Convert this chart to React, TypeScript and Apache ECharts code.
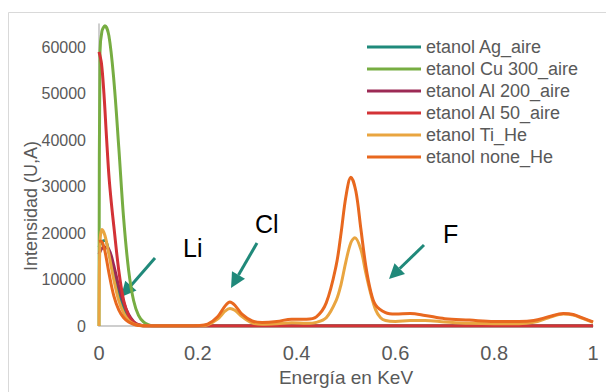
import React, { useEffect, useRef } from "react";
import * as echarts from "echarts";

const seriesNames = [
  "etanol Ag_aire",
  "etanol Cu 300_aire",
  "etanol Al 200_aire",
  "etanol Al 50_aire",
  "etanol Ti_He",
  "etanol none_He",
];
const seriesColors = ["#1f8a7b", "#77ad42", "#9c2a55", "#d33236", "#e9a540", "#e8681f"];

const agEnergy = [0, 0.005, 0.012, 0.02, 0.03, 0.04, 0.05, 0.06, 0.07, 0.08, 0.1, 0.2, 0.4, 0.6, 0.8, 1];
const agIntensity = [17000, 18000, 18400, 16000, 11000, 7000, 3800, 1800, 700, 200, 0, 0, 0, 0, 0, 0];

const cuEnergy = [0, 0.002, 0.006, 0.012, 0.02, 0.03, 0.04, 0.05, 0.06, 0.07, 0.08, 0.09, 0.1, 0.11, 0.2, 0.4, 0.6, 0.8, 1];
const cuIntensity = [0, 59000, 63500, 64600, 62500, 53000, 38500, 23000, 12000, 5500, 2300, 900, 300, 0, 0, 0, 0, 0, 0];

const al200Energy = [0, 0.01, 0.02, 0.03, 0.04, 0.05, 0.06, 0.07, 0.08, 0.1, 0.2, 0.4, 0.6, 0.8, 1];
const al200Intensity = [15500, 17000, 16500, 13000, 8500, 5000, 2500, 1000, 300, 0, 0, 0, 0, 0, 0];

const al50Energy = [0, 0.005, 0.01, 0.015, 0.02, 0.025, 0.03, 0.04, 0.05, 0.06, 0.07, 0.08, 0.1, 0.2, 0.4, 0.6, 0.8, 1];
const al50Intensity = [59000, 56500, 50000, 41000, 32500, 26500, 21500, 12000, 5500, 2200, 800, 250, 0, 0, 0, 0, 0, 0];

const tiEnergy = [0, 0.002, 0.006, 0.012, 0.02, 0.03, 0.04, 0.05, 0.06, 0.07, 0.08, 0.1, 0.2, 0.22, 0.24, 0.255, 0.265, 0.275, 0.29, 0.31, 0.33, 0.36, 0.39, 0.42, 0.44, 0.46, 0.48, 0.49, 0.5, 0.51, 0.518, 0.53, 0.54, 0.55, 0.56, 0.57, 0.58, 0.6, 0.63, 0.66, 0.7, 0.75, 0.8, 0.85, 0.88, 0.91, 0.94, 0.96, 0.98, 1];
const tiIntensity = [0, 18000, 20800, 19500, 15500, 10000, 5500, 2800, 1200, 500, 200, 0, 50, 300, 1500, 3200, 3800, 3400, 2000, 700, 400, 500, 700, 600, 800, 1800, 5500, 9000, 14000, 18000, 19000, 16500, 11500, 7000, 3500, 1800, 1200, 1000, 1200, 1200, 900, 600, 500, 500, 800, 1800, 2600, 2400, 1600, 800];

const noneEnergy = [0, 0.004, 0.01, 0.015, 0.02, 0.03, 0.04, 0.05, 0.06, 0.07, 0.08, 0.1, 0.15, 0.2, 0.22, 0.24, 0.255, 0.265, 0.275, 0.29, 0.31, 0.33, 0.36, 0.39, 0.42, 0.44, 0.46, 0.48, 0.49, 0.5, 0.51, 0.52, 0.53, 0.54, 0.55, 0.56, 0.58, 0.6, 0.63, 0.66, 0.7, 0.75, 0.8, 0.85, 0.88, 0.91, 0.94, 0.96, 0.98, 1];
const noneIntensity = [18200, 18300, 17000, 14500, 11500, 6500, 3500, 1800, 900, 400, 150, 0, 0, 100, 400, 2000, 4300, 5200, 4500, 2500, 1100, 800, 1000, 1500, 1500, 2000, 5000, 13000, 20000, 28000, 32000, 29000, 21000, 13000, 7500, 4500, 2900, 2600, 2700, 2300, 1600, 1300, 1000, 1000, 1200, 2000, 2700, 2500, 1700, 900];

const energies = [agEnergy, cuEnergy, al200Energy, al50Energy, tiEnergy, noneEnergy];
const intensities = [agIntensity, cuIntensity, al200Intensity, al50Intensity, tiIntensity, noneIntensity];

const xTicks = [0, 0.2, 0.4, 0.6, 0.8, 1];

const annotations = [
  { label: "Li", x: 183, y: 247.5, from: [155, 258], to: [121, 297] },
  { label: "Cl", x: 255, y: 224, from: [257, 243], to: [231, 288] },
  { label: "F", x: 443, y: 233.5, from: [424, 245], to: [389, 279] },
];

const FONT = "'Liberation Sans', Arial, sans-serif";
const ARROW = "#20897a";

function arrowElements(from: number[], to: number[]) {
  const [x1, y1] = from;
  const [x2, y2] = to;
  const ang = Math.atan2(y2 - y1, x2 - x1);
  const headLen = 15;
  const headW = 7.5;
  const bx = x2 - headLen * Math.cos(ang);
  const by = y2 - headLen * Math.sin(ang);
  const px = -Math.sin(ang);
  const py = Math.cos(ang);
  return [
    {
      type: "line",
      shape: { x1, y1, x2: bx, y2: by },
      style: { stroke: ARROW, lineWidth: 3 },
    },
    {
      type: "polygon",
      shape: {
        points: [
          [x2, y2],
          [bx + px * headW, by + py * headW],
          [bx - px * headW, by - py * headW],
        ],
      },
      style: { fill: ARROW },
    },
  ];
}

export default function App() {
  const ref = useRef<HTMLDivElement>(null);
  useEffect(() => {
    if (!ref.current) return;
    const chart = echarts.init(ref.current, undefined, { renderer: "svg" });
    const graphics: any[] = [
      {
        type: "rect",
        shape: { x: 8.5, y: 12.5, width: 700, height: 500 },
        style: { fill: "none", stroke: "#d9d9d9", lineWidth: 1 },
        silent: true,
      },
      {
        type: "text",
        x: 31,
        y: 206,
        rotation: Math.PI / 2,
        style: {
          text: "Intensidad (U,A)",
          font: `18px ${FONT}`,
          fill: "#595959",
          align: "center",
          verticalAlign: "middle",
        },
      },
    ];
    annotations.forEach((a) => {
      graphics.push({
        type: "text",
        x: a.x,
        y: a.y,
        style: {
          text: a.label,
          font: `25px ${FONT}`,
          fill: "#000000",
          verticalAlign: "middle",
          align: "left",
        },
      });
      graphics.push(...arrowElements(a.from, a.to));
    });
    chart.setOption({
      animation: false,
      backgroundColor: "#ffffff",
      grid: { left: 99, right: 13, top: 24, bottom: 60, containLabel: false },
      legend: {
        orient: "vertical",
        left: 367,
        top: 38,
        padding: 0,
        itemGap: 4,
        itemWidth: 54,
        itemHeight: 3,
        icon: "rect",
        data: seriesNames,
        textStyle: { fontSize: 18, color: "#595959", fontFamily: FONT, padding: [0, 0, 0, 0] },
      },
      xAxis: {
        type: "value",
        min: 0,
        max: 1,
        interval: 0.2,
        name: "Energía en KeV",
        nameLocation: "middle",
        nameGap: 39,
        nameTextStyle: { fontSize: 19, color: "#595959", fontFamily: FONT },
        axisLine: { show: true, lineStyle: { color: "#bfbfbf", width: 1.5 } },
        axisTick: { show: false },
        splitLine: { show: false },
        axisLabel: {
          fontSize: 20,
          color: "#595959",
          fontFamily: FONT,
          margin: 17,
          formatter: (v: number) => {
            const t = xTicks.find((k) => Math.abs(k - v) < 1e-6);
            return t === undefined ? "" : String(t);
          },
        },
      },
      yAxis: {
        type: "value",
        min: 0,
        max: 65000,
        interval: 10000,
        axisLine: { show: true, lineStyle: { color: "#bfbfbf", width: 1.5 } },
        axisTick: { show: false },
        splitLine: { show: false },
        axisLabel: {
          fontSize: 16,
          color: "#595959",
          fontFamily: FONT,
          margin: 13,
          showMaxLabel: false,
          formatter: (v: number) => String(Math.round(v)),
        },
      },
      series: seriesNames.map((name, i) => ({
        name,
        type: "line",
        smooth: 0.35,
        symbol: "none",
        color: seriesColors[i],
        lineStyle: { width: 3, color: seriesColors[i] },
        data: energies[i].map((e, j) => [e, intensities[i][j]]),
        z: 2 + i,
      })),
      graphic: graphics,
    });
    return () => chart.dispose();
  }, []);
  return (
    <div
      ref={ref}
      style={{ position: "fixed", left: 0, top: 0, width: 606, height: 392 }}
    />
  );
}
